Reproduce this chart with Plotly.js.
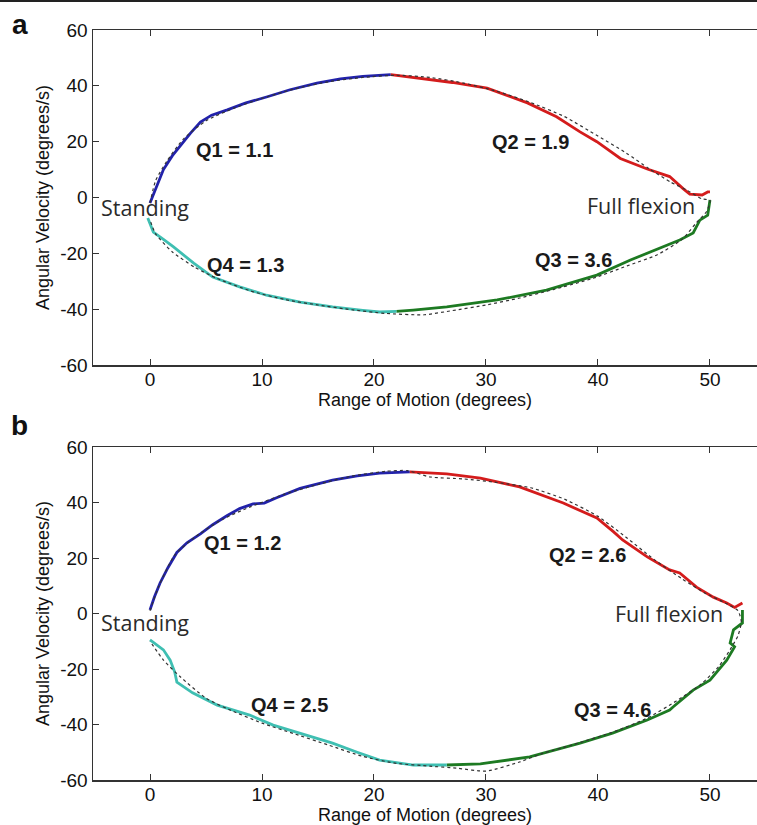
<!DOCTYPE html>
<html><head><meta charset="utf-8">
<script src="https://cdn.plot.ly/plotly-3.0.1.min.js"></script>
<style>html,body{margin:0;padding:0;background:#fff;overflow:hidden}</style>
</head><body><div id="chart" style="width:757px;height:825px"></div>
<script>
// ---------- Panel a ----------
const aQ1x = [0, 0.3, 0.6, 1.2, 2.0, 2.9, 3.6, 4.5, 5.5, 6.9, 8.5, 10.4, 12.5, 14.9, 17.0, 19.0, 20.5, 21.5];
const aQ1y = [-2, 1, 4.5, 10, 15, 19.5, 23, 27, 29.5, 31.4, 33.8, 36, 38.6, 41, 42.5, 43.4, 43.8, 44];
const aQ2x = [21.5, 24.1, 27, 30.1, 33.7, 36.3, 38.4, 39.9, 42, 44.4, 46.4, 47.6, 48.2, 49.3, 49.8, 50];
const aQ2y = [44, 42.8, 41.2, 39.2, 33.9, 28.9, 23.5, 20, 14, 10.2, 7.5, 3.2, 1.2, 0.9, 2, 2];
const aQ3x = [50, 49.8, 49.1, 48.5, 47.3, 45.8, 42.9, 39.9, 35.4, 31, 26.5, 23.5, 22];
const aQ3y = [-0.9, -6.3, -8.1, -12.7, -15.2, -17.7, -22.4, -27.8, -33.2, -36.7, -39.2, -40.3, -40.8];
const aQ4x = [-0.2, 0.3, 1.2, 2.1, 3.9, 5.6, 8, 10.4, 13.4, 16.3, 19, 20.5, 22];
const aQ4y = [-7.3, -12.4, -15, -17.7, -23.5, -28.5, -32, -35, -37.5, -39.2, -40.4, -41, -40.8];
const aFitX = [0, 0.5, 1.5, 3, 5, 7.5, 10, 13, 16, 19, 22, 25, 28, 31, 34, 37, 40, 42.5, 44.5, 46.5, 48, 49.3, 50, 49.7, 48.8, 47.5, 45.3, 42.6, 39.5, 36, 33, 30, 27, 24.5, 21, 18, 15, 12, 9, 6, 4, 2, 0.5, 0];
const aFitY = [-2, 6, 13, 21, 27.5, 32, 35.5, 39, 41.5, 43, 43.8, 43, 41, 38, 34, 29, 22, 16, 10.5, 5.5, 2.5, -0.5, -1, -5, -9, -15, -20.5, -24.5, -29, -33, -36, -38.5, -40.5, -42, -41.5, -40.2, -38.5, -36.5, -33.5, -29, -25, -19.5, -13, -8];

// ---------- Panel b ----------
const bQ1x = [0, 0.4, 0.9, 1.6, 2.4, 3.3, 4.5, 5.6, 6.9, 8, 9.2, 10.2, 11.3, 13.4, 16.3, 18.5, 20.5, 23.2];
const bQ1y = [1.3, 6, 11, 16.5, 22, 25.5, 28.7, 32, 35.3, 37.8, 39.5, 39.8, 41.7, 45.1, 48.1, 49.6, 50.6, 51];
const bQ2x = [23.2, 26.5, 29.5, 33, 36.9, 39.9, 41.4, 42.2, 44.4, 46.4, 47.3, 48.8, 50.3, 51.5, 52.2, 52.9];
const bQ2y = [51, 50.3, 48.8, 45.6, 39.8, 34.4, 29.4, 26.5, 20.4, 15.7, 14.6, 9.5, 5.9, 3.8, 2.2, 3.8];
const bQ3x = [52.9, 52.9, 52.1, 51.8, 52.2, 51.5, 50, 48.5, 46.7, 46.4, 44.4, 41.3, 38.4, 33.9, 29.5, 26.5];
const bQ3y = [1.3, -3.4, -5.9, -10.6, -12, -16.8, -24, -27.6, -33.7, -34.8, -38.4, -43.1, -46.7, -51.7, -54.2, -54.6];
const bQ4x = [0, 1.2, 1.8, 2.2, 2.4, 3.8, 6, 8.9, 11, 13.4, 16.3, 18.5, 20.5, 23.5, 26.5];
const bQ4y = [-9.5, -13.1, -16.8, -21, -24.7, -28.6, -33, -36.6, -40.2, -43.1, -46.7, -50, -52.8, -54.6, -54.6];
const bFitX = [0, 0.8, 2.2, 4, 6.5, 9, 12, 15, 18, 21, 23, 25, 28, 31, 34, 37, 40, 42.5, 45, 47.5, 49.5, 51.5, 52.5, 52.8, 52.5, 51.8, 50.8, 49.2, 47, 44.5, 41.5, 38, 35, 33, 30, 27.5, 25, 22, 19, 16, 13, 10, 7, 5, 2.7, 1.2, 0];
const bFitY = [1, 10, 21, 27.5, 34, 38.5, 43, 46.5, 49.5, 51.2, 51.5, 49.2, 48.5, 47.2, 45.3, 41.2, 35, 27.5, 19.5, 12.5, 7.5, 3.5, 1, -3, -8, -13, -19, -25.5, -31.5, -37.5, -42.5, -47, -50.5, -53.5, -56.8, -55.8, -55, -54, -51.5, -47.5, -43.5, -39.5, -34.5, -30.5, -22.8, -16.8, -10];

const xTicks = [0, 10, 20, 30, 40, 50];
const xTickText = ['0', '10', '20', '30', '40', '50'];
const yTicks = [-60, -40, -20, 0, 20, 40, 60];
const yTickText = ['-60', '-40', '-20', '0', '20', '40', '60'];

const qColors = {q1: '#2222aa', q2: '#d41c1c', q3: '#1d7a22', q4: '#3fbfb2'};

function seg(x, y, color, xa, ya) {
  return {x: x, y: y, xaxis: xa, yaxis: ya, mode: 'lines', type: 'scatter',
          line: {color: color, width: 2.8}, hoverinfo: 'skip'};
}
function fit(x, y, xa, ya) {
  return {x: x, y: y, xaxis: xa, yaxis: ya, mode: 'lines', type: 'scatter',
          line: {color: '#333', width: 1.2, dash: 'dot', shape: 'spline', smoothing: 0.6}, hoverinfo: 'skip'};
}

const data = [
  seg(aQ1x, aQ1y, qColors.q1, 'x', 'y'),
  seg(aQ2x, aQ2y, qColors.q2, 'x', 'y'),
  seg(aQ3x, aQ3y, qColors.q3, 'x', 'y'),
  seg(aQ4x, aQ4y, qColors.q4, 'x', 'y'),
  fit(aFitX, aFitY, 'x', 'y'),
  seg(bQ1x, bQ1y, qColors.q1, 'x2', 'y2'),
  seg(bQ2x, bQ2y, qColors.q2, 'x2', 'y2'),
  seg(bQ3x, bQ3y, qColors.q3, 'x2', 'y2'),
  seg(bQ4x, bQ4y, qColors.q4, 'x2', 'y2'),
  fit(bFitX, bFitY, 'x2', 'y2')
];

const tickFont = {family: 'Liberation Sans, Arial, sans-serif', size: 19, color: '#111'};
const titleFont = {family: 'Liberation Sans, Arial, sans-serif', size: 18, color: '#111'};

function xax(anchor) {
  return {anchor: anchor, range: [-5.09, 54.2], tickvals: xTicks, ticktext: xTickText, ticks: 'inside', ticklen: 6,
          tickcolor: '#333', showline: true, linecolor: '#333', linewidth: 1.5, mirror: 'ticks',
          showgrid: false, zeroline: false, tickfont: tickFont, ticklabelstandoff: -3,
          title: {text: 'Range of Motion (degrees)', font: titleFont, standoff: 2}};
}
function yax(anchor, domain) {
  return {anchor: anchor, domain: domain, range: [-60, 60], tickvals: yTicks, ticktext: yTickText, ticks: 'inside', ticklen: 6,
          tickcolor: '#333', showline: true, linecolor: '#333', linewidth: 1.5, mirror: false,
          showgrid: false, zeroline: false, tickfont: tickFont,
          title: {text: 'Angular Velocity (degrees/s)', font: titleFont, standoff: 6}};
}

const qFont = {family: 'Liberation Sans, Arial, sans-serif', size: 20, color: '#1a1a1a'};
const nFont = {family: 'Open Sans, sans-serif', size: 21.5, color: '#2a2a2a'};
function ann(text, x, y, xr, yr, font) {
  return {text: text, x: x, y: y, xref: xr, yref: yr, showarrow: false, font: font,
          xanchor: 'center', yanchor: 'middle'};
}

const layout = {
  width: 757, height: 825,
  margin: {l: 93, r: 0, t: 30, b: 45},
  paper_bgcolor: '#fff', plot_bgcolor: '#fff',
  showlegend: false,
  xaxis: xax('y'),
  yaxis: yax('x', [0.5533, 1]),
  xaxis2: xax('y2'),
  yaxis2: yax('x2', [0, 0.444]),
  annotations: [
    ann('<b>Q1 = 1.1</b>', 7.5, 17, 'x', 'y', qFont),
    ann('<b>Q2 = 1.9</b>', 34, 20, 'x', 'y', qFont),
    ann('<b>Q3 = 3.6</b>', 37.8, -22.4, 'x', 'y', qFont),
    ann('<b>Q4 = 1.3</b>', 8.5, -24.2, 'x', 'y', qFont),
    ann('Standing', -0.45, -3.4, 'x', 'y', nFont),
    ann('Full flexion', 43.8, -2.8, 'x', 'y', nFont),
    ann('<b>Q1 = 1.2</b>', 8.3, 25.4, 'x2', 'y2', qFont),
    ann('<b>Q2 = 2.6</b>', 39.1, 21.1, 'x2', 'y2', qFont),
    ann('<b>Q3 = 4.6</b>', 41.3, -34.8, 'x2', 'y2', qFont),
    ann('<b>Q4 = 2.5</b>', 12.5, -33, 'x2', 'y2', qFont),
    ann('Standing', -0.45, -3.1, 'x2', 'y2', nFont),
    ann('Full flexion', 46.3, 0, 'x2', 'y2', nFont),
    {text: '<b>a</b>', xref: 'paper', yref: 'paper', x: -0.11, y: 1.0067, xanchor: 'center', yanchor: 'middle',
     showarrow: false, font: {family: 'Liberation Sans, Arial, sans-serif', size: 28, color: '#111'}},
    {text: '<b>b</b>', xref: 'paper', yref: 'paper', x: -0.11, y: 0.4725, xanchor: 'center', yanchor: 'middle',
     showarrow: false, font: {family: 'Liberation Sans, Arial, sans-serif', size: 28, color: '#111'}}
  ],
  shapes: [
    {type: 'line', xref: 'paper', yref: 'paper', x0: -0.15, x1: 1, y0: 1.0387, y1: 1.0387,
     line: {color: '#222', width: 2}}
  ]
};

Plotly.newPlot('chart', data, layout, {staticPlot: true, displayModeBar: false});
</script>
</body></html>
